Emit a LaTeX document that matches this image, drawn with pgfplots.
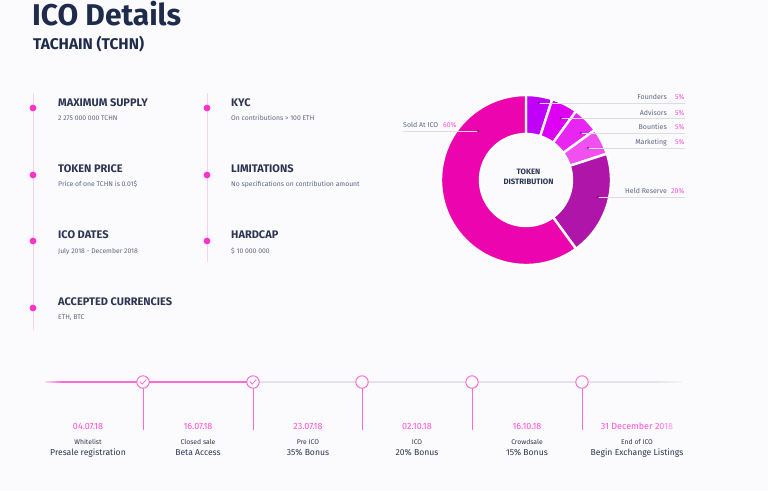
\documentclass[border=0pt]{standalone}
\usepackage{fontspec}
\setmainfont{Fira Sans}
\usepackage{pgfplots}
\pgfplotsset{compat=1.18}
\usetikzlibrary{fadings}

\definecolor{bg}{HTML}{FBFBFD}
\definecolor{navy}{HTML}{1F2B4B}
\definecolor{txt}{HTML}{2C3552}
\definecolor{subt}{HTML}{5E6580}
\definecolor{dotpink}{HTML}{FF33CC}
\definecolor{vline}{HTML}{F8D2F1}
\definecolor{tlpink}{HTML}{FF6AD6}
\definecolor{datepink}{HTML}{FF50D2}
\definecolor{tlgray}{HTML}{E3E3E9}
\definecolor{lead}{HTML}{DCDCE3}
\definecolor{cF}{HTML}{C000F8}
\definecolor{cA}{HTML}{DD00F2}
\definecolor{cB}{HTML}{E825F2}
\definecolor{cM}{HTML}{F050F0}
\definecolor{cH}{HTML}{B015AA}
\definecolor{cS}{HTML}{EC05AE}

\pgfdeclareplotmark{check}{%
  \pgfpathmoveto{\pgfpoint{-3pt}{0.3pt}}%
  \pgfpathlineto{\pgfpoint{-0.8pt}{-2.1pt}}%
  \pgfpathlineto{\pgfpoint{3.2pt}{2.4pt}}%
  \pgfusepathqstroke}
\pgfdeclareplotmark{dot}{%
  \pgfpathcircle{\pgfpointorigin}{\pgfplotmarksize}%
  \pgfusepathqfill}

% donut wedge: #1 = cumulative percent at start, #2 = cumulative percent at end, #3 = colour
\newcommand\donutwedge[3]{%
  \filldraw[fill=#3, draw=white, line width=2.4pt, line join=miter]
    (axis cs:526,180) ++({90-3.6*#1}:85pt)
    arc[start angle={90-3.6*#1}, end angle={90-3.6*#2}, radius=85pt]
    -- ++({90-3.6*#2}:-39pt)
    arc[start angle={90-3.6*#2}, end angle={90-3.6*#1}, radius=46pt]
    -- cycle;}

\begin{document}
\begin{tikzpicture}
\begin{axis}[width=768pt, height=491pt, scale only axis,
  xmin=0, xmax=768, ymin=0, ymax=491, y dir=reverse,
  hide axis, clip=false]

\fill[bg] (axis cs:0,0) rectangle (axis cs:768,491);

% ---------- titles ----------
\node[anchor=base west, inner sep=0, text=navy, font=\fontsize{30}{32}\selectfont\bfseries] at (axis cs:32,25.5) {ICO Details};
\node[anchor=base west, inner sep=0, text=navy, font=\fontsize{15.5}{17}\selectfont\bfseries] at (axis cs:33,49.5) {TACHAIN (TCHN)};

% ---------- info list ----------
\addplot[vline, line width=0.8pt] coordinates {(33,93) (33,330)};
\addplot[vline, line width=0.8pt] coordinates {(207,93) (207,262)};
\addplot[dotpink, only marks, mark=dot, mark size=3.4pt, mark options={fill=dotpink}]
  coordinates {(33,108) (33,175) (33,241) (33,308) (207,108) (207,175) (207,241)};

\tikzset{hd/.style={anchor=base west, inner sep=0, text=txt, font=\fontsize{11}{12}\selectfont\bfseries},
         sb/.style={anchor=base west, inner sep=0, text=subt, font=\fontsize{6.8}{8}\selectfont}}
\node[hd] at (axis cs:58,106) {MAXIMUM SUPPLY};
\node[sb] at (axis cs:58,120) {2 275 000 000 TCHN};
\node[hd] at (axis cs:58,172) {TOKEN PRICE};
\node[sb] at (axis cs:58,186.5) {Price of one TCHN is 0.01\$};
\node[hd] at (axis cs:58,238.5) {ICO DATES};
\node[sb] at (axis cs:58,253) {July 2018 - December 2018};
\node[hd] at (axis cs:58,305) {ACCEPTED CURRENCIES};
\node[sb] at (axis cs:58,319.5) {ETH, BTC};

\node[hd] at (axis cs:231,106) {KYC};
\node[sb] at (axis cs:231,120) {On contributions > 100 ETH};
\node[hd] at (axis cs:231,172) {LIMITATIONS};
\node[sb] at (axis cs:231,186.5) {No specifications on contribution amount};
\node[hd] at (axis cs:231,238.5) {HARDCAP};
\node[sb] at (axis cs:231,253) {\$ 10 000 000};

% ---------- donut: Founders 5, Advisors 5, Bounties 5, Marketing 5, Held Reserve 20, Sold At ICO 60 ----------
\donutwedge{0}{5}{cF}
\donutwedge{5}{10}{cA}
\donutwedge{10}{15}{cB}
\donutwedge{15}{20}{cM}
\donutwedge{20}{40}{cH}
\donutwedge{40}{100}{cS}

\node[align=center, inner sep=0, text=txt, font=\fontsize{7.8}{9.6}\selectfont\bfseries] at (axis cs:528.5,177) {TOKEN\\DISTRIBUTION};

% leader lines
\addplot[lead, line width=0.7pt] coordinates {(539,103) (685,103)};
\addplot[lead, line width=0.7pt] coordinates {(561,118) (685,118)};
\addplot[lead, line width=0.7pt] coordinates {(581,133) (685,133)};
\addplot[lead, line width=0.7pt] coordinates {(588,148) (685,148)};
\addplot[lead, line width=0.7pt] coordinates {(598,197) (685,197)};
\addplot[lead, line width=0.7pt] coordinates {(403,131) (478,131)};
\addplot[black!70!violet, only marks, mark=dot, mark size=1.4pt, mark options={opacity=0.45}]
  coordinates {(539,103) (561,118) (581,133) (588,148) (598,197) (478,131)};

\tikzset{ll/.style={anchor=base east, inner sep=0, text=subt, font=\fontsize{7}{8}\selectfont},
         pp/.style={anchor=base east, inner sep=0, text=datepink, font=\fontsize{7}{8}\selectfont}}
\node[ll] at (axis cs:667,99.5) {Founders};   \node[pp] at (axis cs:684.5,99.5) {5\%};
\node[ll] at (axis cs:667,115) {Advisors};    \node[pp] at (axis cs:684.5,115) {5\%};
\node[ll] at (axis cs:667,129.5) {Bounties};  \node[pp] at (axis cs:684.5,129.5) {5\%};
\node[ll] at (axis cs:667,144) {Marketing};   \node[pp] at (axis cs:684.5,144) {5\%};
\node[ll] at (axis cs:667,193.5) {Held Reserve}; \node[pp] at (axis cs:684.5,193.5) {20\%};
\node[ll, anchor=base west] at (axis cs:403,127) {Sold At ICO};
\node[pp, anchor=base west] at (axis cs:443,127) {60\%};

% ---------- timeline ----------
\addplot[tlgray, line width=1.8pt] coordinates {(253,382) (682,382)};
\addplot[tlpink, line width=1.8pt] coordinates {(45,382) (253,382)};
\addplot[tlpink, line width=1pt] coordinates {(143,388) (143,430)};
\addplot[tlpink, line width=1pt] coordinates {(253,388) (253,430)};
\addplot[tlpink, line width=1pt] coordinates {(362,388) (362,430)};
\addplot[tlpink, line width=1pt] coordinates {(472,388) (472,430)};
\addplot[tlpink, line width=1pt] coordinates {(582,388) (582,430)};
\addplot[tlpink, only marks, mark=*, mark size=6.2pt, mark options={fill=white, draw=tlpink, line width=1pt}]
  coordinates {(143,382) (253,382) (362,382) (472,382) (582,382)};
\addplot[tlpink, only marks, mark=check, mark options={draw=tlpink, line width=0.8pt, line cap=round, line join=round}]
  coordinates {(143,382) (253,382)};

\tikzset{dt/.style={anchor=base, inner sep=0, text=datepink, font=\fontsize{9}{10}\selectfont},
         s1/.style={anchor=base, inner sep=0, text=txt, font=\fontsize{6.8}{8}\selectfont},
         s2/.style={anchor=base, inner sep=0, text=txt, font=\fontsize{8.6}{10}\selectfont}}
\node[dt] at (axis cs:88,429) {04.07.18};
\node[s1] at (axis cs:88,444.5) {Whitelist};
\node[s2] at (axis cs:88,455.7) {Presale registration};
\node[dt] at (axis cs:198,429) {16.07.18};
\node[s1] at (axis cs:198,444.5) {Closed sale};
\node[s2] at (axis cs:198,455.7) {Beta Access};
\node[dt] at (axis cs:308,429) {23.07.18};
\node[s1] at (axis cs:308,444.5) {Pre ICO};
\node[s2] at (axis cs:308,455.7) {35\% Bonus};
\node[dt] at (axis cs:417,429) {02.10.18};
\node[s1] at (axis cs:417,444.5) {ICO};
\node[s2] at (axis cs:417,455.7) {20\% Bonus};
\node[dt] at (axis cs:527,429) {16.10.18};
\node[s1] at (axis cs:527,444.5) {Crowdsale};
\node[s2] at (axis cs:527,455.7) {15\% Bonus};
\node[dt] at (axis cs:637,429) {31 December 2018};
\node[s1] at (axis cs:637,444.5) {End of ICO};
\node[s2] at (axis cs:637,455.7) {Begin Exchange Listings};

% fades at the ends of the timeline
\fill[bg, path fading=west] (axis cs:655,372) rectangle (axis cs:690,433);
\fill[bg, path fading=east] (axis cs:40,376) rectangle (axis cs:62,388);

\end{axis}
\end{tikzpicture}
\end{document}
